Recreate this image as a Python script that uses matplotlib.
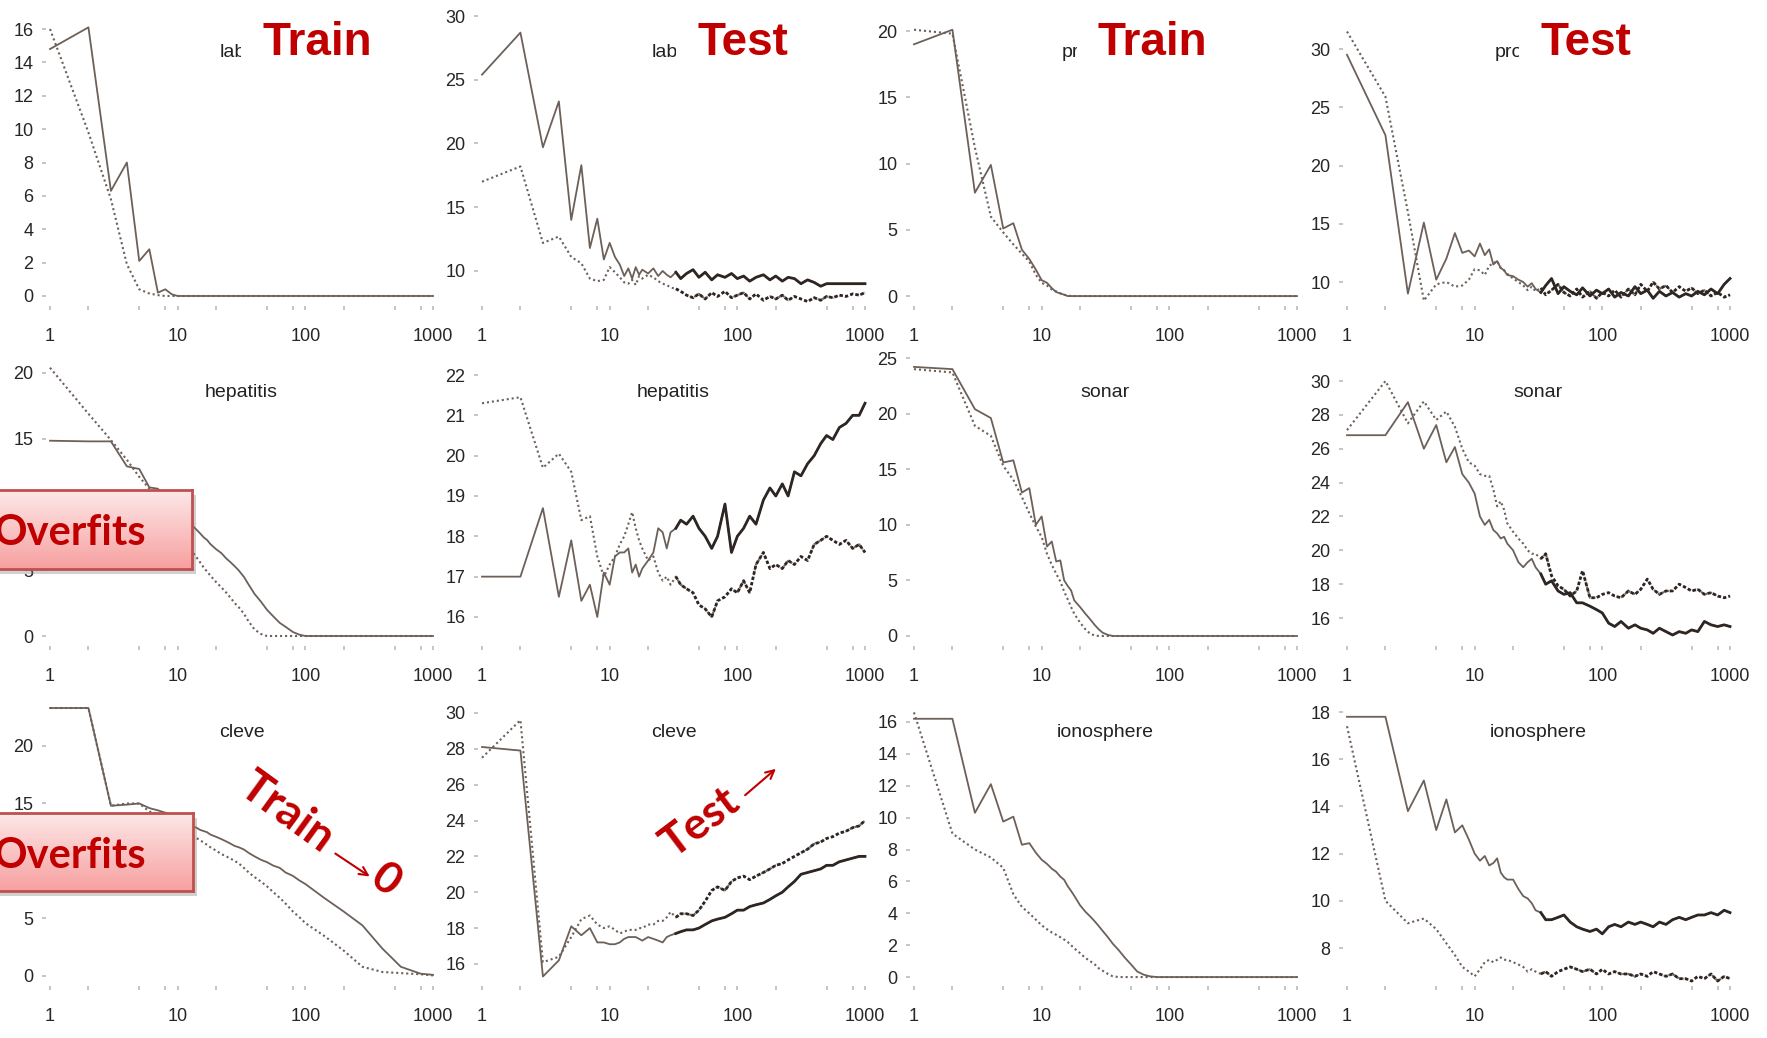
# Recreation of a 3x4 grid of train/test error curves (log x axis) with slide annotations.

import numpy as np
import matplotlib
matplotlib.use("Agg")
import matplotlib.pyplot as plt
from matplotlib.ticker import FixedLocator, NullFormatter
from matplotlib.patches import Rectangle, FancyArrowPatch
from matplotlib.colors import LinearSegmentedColormap

# ---------------- data ----------------
X_TRAIN = [1, 2, 3, 4, 5, 6, 7, 8, 9, 10,
           11, 12, 13, 14, 15, 16, 17, 18,
           20, 22, 24, 26, 28, 30,
           33, 36, 40, 45, 50, 56, 63, 70, 80, 90, 100,
           140, 200, 280, 400, 560, 800, 1000]

X_TEST = [1, 2, 3, 4, 5, 6, 7, 8, 9, 10,
          11, 12, 13, 14, 15, 16, 17, 18,
          20, 22, 24, 26, 28, 30,
          33, 36, 40, 45, 50, 56, 63, 70, 80, 90, 100,
          112, 125, 140, 160, 180, 200,
          225, 250, 280, 315, 355, 400,
          450, 500, 560, 630, 710, 800, 900, 1000]

# row 1 : labor / promoters
lab_train_solid = [14.8, 16.1, 6.3, 8.0, 2.1, 2.8, 0.2, 0.4, 0.1, 0.0,
                   0.0, 0.0, 0.0, 0.0, 0.0, 0.0, 0.0, 0.0,
                   0.0, 0.0, 0.0, 0.0, 0.0, 0.0,
                   0.0, 0.0, 0.0, 0.0, 0.0, 0.0, 0.0, 0.0, 0.0, 0.0, 0.0,
                   0.0, 0.0, 0.0, 0.0, 0.0, 0.0, 0.0]
lab_train_dotted = [16.0, 9.8, 5.8, 1.9, 0.4, 0.15, 0.05, 0.0, 0.0, 0.0,
                    0.0, 0.0, 0.0, 0.0, 0.0, 0.0, 0.0, 0.0,
                    0.0, 0.0, 0.0, 0.0, 0.0, 0.0,
                    0.0, 0.0, 0.0, 0.0, 0.0, 0.0, 0.0, 0.0, 0.0, 0.0, 0.0,
                    0.0, 0.0, 0.0, 0.0, 0.0, 0.0, 0.0]

lab_test_solid = [25.4, 28.7, 19.7, 23.3, 14.0, 18.3, 11.8, 14.1, 10.9, 12.2,
                  11.1, 10.5, 9.6, 10.2, 9.4, 10.3, 9.7, 10.1,
                  9.8, 10.2, 9.6, 10.0, 9.7, 9.5,
                  9.9, 9.4, 9.8, 10.1, 9.5, 9.9, 9.3, 9.7, 9.5, 9.8, 9.4,
                  9.6, 9.2, 9.5, 9.7, 9.3, 9.6,
                  9.2, 9.5, 9.4, 9.0, 9.3, 9.1,
                  8.8, 9.0, 9.0, 9.0, 9.0, 9.0, 9.0, 9.0]
lab_test_dotted = [17.0, 18.2, 12.2, 12.7, 11.1, 10.6, 9.4, 9.2, 9.3, 10.3,
                   9.9, 9.5, 9.1, 9.0, 9.3, 8.9, 9.6, 9.4,
                   9.7, 9.5, 9.2, 9.0, 8.9, 8.7,
                   8.6, 8.4, 8.1, 7.9, 8.2, 7.8, 8.3, 8.0, 8.4, 7.9, 8.1,
                   8.3, 7.8, 8.2, 7.7, 8.0, 7.8,
                   8.1, 7.7, 8.0, 7.8, 7.6, 7.9,
                   7.7, 8.0, 7.9, 8.1, 8.0, 8.2, 8.1, 8.3]

pro_train_solid = [19.0, 20.1, 7.8, 9.9, 5.1, 5.5, 3.5, 2.8, 2.0, 1.2,
                   1.0, 0.6, 0.3, 0.2, 0.1, 0.0, 0.0, 0.0,
                   0.0, 0.0, 0.0, 0.0, 0.0, 0.0,
                   0.0, 0.0, 0.0, 0.0, 0.0, 0.0, 0.0, 0.0, 0.0, 0.0, 0.0,
                   0.0, 0.0, 0.0, 0.0, 0.0, 0.0, 0.0]
pro_train_dotted = [20.1, 19.8, 11.2, 6.0, 4.8, 3.9, 3.2, 2.6, 1.6, 1.0,
                    0.8, 0.5, 0.35, 0.2, 0.1, 0.05, 0.0, 0.0,
                    0.0, 0.0, 0.0, 0.0, 0.0, 0.0,
                    0.0, 0.0, 0.0, 0.0, 0.0, 0.0, 0.0, 0.0, 0.0, 0.0, 0.0,
                    0.0, 0.0, 0.0, 0.0, 0.0, 0.0, 0.0]

pro_test_solid = [29.5, 22.6, 9.0, 15.1, 10.2, 12.0, 14.2, 12.5, 12.7, 12.2,
                  13.3, 12.3, 12.8, 11.5, 11.8, 11.2, 11.0, 10.6,
                  10.5, 10.2, 10.0, 9.6, 9.9, 9.4,
                  9.1, 9.7, 10.3, 9.0, 9.6, 9.2, 8.9, 9.5, 8.8, 9.3, 9.0,
                  9.4, 8.7, 9.1, 8.8, 9.6, 9.0,
                  9.3, 8.6, 9.2, 8.8, 9.1, 8.7,
                  9.0, 8.8, 9.2, 8.9, 9.4, 9.0, 9.8, 10.3]
pro_test_dotted = [31.5, 25.9, 16.0, 8.4, 9.8, 10.0, 9.6, 9.7, 10.2, 11.1,
                   11.0, 10.6, 11.4, 11.6, 11.8, 11.2, 11.0, 10.7,
                   10.3, 10.0, 9.7, 9.3, 9.6, 9.2,
                   9.5, 8.9, 9.3, 9.8, 9.1, 8.8, 9.4, 8.7, 9.2, 8.6, 9.1,
                   8.8, 9.3, 8.7, 9.4, 8.9, 9.8,
                   9.2, 10.0, 9.4, 9.7, 9.1, 9.6,
                   9.2, 9.5, 9.0, 9.3, 8.8, 9.1, 8.7, 8.9]

# row 2 : hepatitis / sonar
hep_train_solid = [14.85, 14.8, 14.8, 12.9, 12.7, 11.3, 11.2, 10.5, 10.0, 9.6,
                   9.2, 8.8, 8.4, 8.1, 7.8, 7.5, 7.3, 7.0,
                   6.6, 6.3, 5.9, 5.6, 5.3, 5.0,
                   4.5, 3.9, 3.2, 2.6, 2.0, 1.5, 1.0, 0.7, 0.3, 0.1, 0.0,
                   0.0, 0.0, 0.0, 0.0, 0.0, 0.0, 0.0]
hep_train_dotted = [20.4, 16.9, 14.9, 13.4, 12.1, 11.2, 10.3, 9.5, 8.7, 8.0,
                    7.5, 7.0, 6.4, 6.0, 5.6, 5.2, 4.9, 4.6,
                    4.1, 3.7, 3.3, 2.9, 2.5, 2.2,
                    1.7, 1.1, 0.5, 0.15, 0.0, 0.0, 0.0, 0.0, 0.0, 0.0, 0.0,
                    0.0, 0.0, 0.0, 0.0, 0.0, 0.0, 0.0]

hep_test_solid = [17.0, 17.0, 18.7, 16.5, 17.9, 16.4, 16.8, 16.0, 17.1, 16.8,
                  17.5, 17.6, 17.6, 17.7, 17.1, 17.3, 17.0, 17.2,
                  17.4, 17.6, 18.2, 18.1, 17.7, 18.1,
                  18.2, 18.4, 18.3, 18.5, 18.2, 18.0, 17.7, 18.0, 18.8, 17.6, 18.0,
                  18.2, 18.5, 18.3, 18.9, 19.2, 19.0,
                  19.3, 19.0, 19.6, 19.5, 19.8, 20.0,
                  20.3, 20.5, 20.4, 20.7, 20.8, 21.0, 21.0, 21.3]
hep_test_dotted = [21.3, 21.45, 19.7, 20.05, 19.6, 18.4, 18.5, 17.5, 17.0, 17.3,
                   17.5, 17.8, 18.0, 18.3, 18.6, 18.2, 17.9, 17.7,
                   17.4, 17.5, 17.1, 16.9, 17.0, 16.8,
                   17.0, 16.8, 16.7, 16.6, 16.3, 16.2, 16.0, 16.4, 16.5, 16.7, 16.6,
                   16.9, 16.6, 17.3, 17.6, 17.2, 17.3,
                   17.2, 17.4, 17.3, 17.5, 17.4, 17.8,
                   17.9, 18.0, 17.9, 17.8, 17.9, 17.7, 17.8, 17.6]

son_train_solid = [24.2, 24.0, 20.4, 19.6, 15.6, 15.8, 12.9, 13.3, 10.0, 10.75,
                   8.05, 8.5, 6.7, 6.8, 5.0, 4.5, 4.1, 3.2,
                   2.6, 2.0, 1.5, 1.0, 0.6, 0.3,
                   0.1, 0.0, 0.0, 0.0, 0.0, 0.0, 0.0, 0.0, 0.0, 0.0, 0.0,
                   0.0, 0.0, 0.0, 0.0, 0.0, 0.0, 0.0]
son_train_dotted = [24.0, 23.7, 18.9, 18.0, 15.3, 14.05, 12.5, 11.05, 9.85, 8.9,
                    7.4, 6.4, 5.6, 4.9, 4.0, 3.3, 2.6, 2.0,
                    1.2, 0.6, 0.2, 0.05, 0.0, 0.0,
                    0.0, 0.0, 0.0, 0.0, 0.0, 0.0, 0.0, 0.0, 0.0, 0.0, 0.0,
                    0.0, 0.0, 0.0, 0.0, 0.0, 0.0, 0.0]

son_test_solid = [26.8, 26.8, 28.75, 26.0, 27.4, 25.2, 26.1, 24.5, 24.0, 23.35,
                  22.0, 21.5, 21.8, 21.2, 21.0, 20.7, 20.8, 20.4,
                  20.0, 19.3, 19.0, 19.3, 19.5, 19.0,
                  18.6, 18.0, 18.2, 17.6, 17.4, 17.5, 16.9, 16.9, 16.7, 16.5, 16.3,
                  15.7, 15.5, 15.8, 15.4, 15.6, 15.4,
                  15.3, 15.1, 15.4, 15.2, 15.0, 15.2,
                  15.1, 15.3, 15.2, 15.8, 15.6, 15.5, 15.6, 15.5]
son_test_dotted = [27.1, 30.0, 27.5, 28.8, 27.7, 28.2, 27.3, 26.0, 25.2, 25.0,
                   24.5, 24.4, 24.4, 23.6, 22.6, 22.9, 22.4, 21.6,
                   21.1, 20.7, 20.4, 20.0, 19.8, 19.8,
                   19.5, 19.8, 18.5, 17.9, 17.7, 17.3, 17.6, 18.8, 17.2, 17.2, 17.4,
                   17.5, 17.3, 17.2, 17.6, 17.4, 17.7,
                   18.3, 17.7, 17.4, 17.6, 17.6, 18.0,
                   17.8, 17.6, 17.7, 17.4, 17.5, 17.3, 17.2, 17.3]

# row 3 : cleve / ionosphere
clv_train_solid = [23.3, 23.3, 14.8, 14.9, 15.0, 14.6, 14.4, 14.2, 14.0, 13.6,
                   13.3, 13.2, 13.0, 12.9, 12.7, 12.6, 12.5, 12.3,
                   12.1, 11.9, 11.7, 11.5, 11.3, 11.2,
                   11.0, 10.7, 10.4, 10.1, 9.9, 9.6, 9.4, 9.0, 8.7, 8.3, 8.0,
                   6.8, 5.6, 4.4, 2.4, 0.8, 0.2, 0.1]
clv_train_dotted = [23.3, 23.3, 14.8, 15.0, 15.0, 14.3, 14.1, 13.7, 13.3, 13.0,
                    12.7, 12.4, 12.2, 12.0, 11.8, 11.6, 11.4, 11.2,
                    10.9, 10.6, 10.4, 10.2, 10.0, 9.8,
                    9.4, 9.0, 8.6, 8.2, 7.8, 7.3, 6.8, 6.3, 5.6, 5.1, 4.6,
                    3.5, 2.2, 0.8, 0.35, 0.25, 0.15, 0.05]

clv_test_solid = [28.1, 27.9, 15.3, 16.2, 18.1, 17.6, 18.0, 17.2, 17.2, 17.1,
                  17.1, 17.2, 17.4, 17.5, 17.5, 17.5, 17.4, 17.3,
                  17.5, 17.4, 17.3, 17.2, 17.5, 17.6,
                  17.7, 17.8, 17.9, 17.9, 18.0, 18.2, 18.4, 18.5, 18.6, 18.8, 19.0,
                  19.0, 19.2, 19.3, 19.4, 19.6, 19.8,
                  20.0, 20.3, 20.6, 21.0, 21.1, 21.2,
                  21.3, 21.5, 21.5, 21.7, 21.8, 21.9, 22.0, 22.0]
clv_test_dotted = [27.5, 29.6, 16.1, 16.4, 17.5, 18.5, 18.7, 18.2, 18.0, 18.1,
                   17.9, 17.7, 17.8, 17.9, 17.9, 17.9, 18.0, 18.0,
                   18.2, 18.2, 18.4, 18.4, 18.6, 18.9,
                   18.6, 18.8, 18.8, 18.7, 19.0, 19.5, 20.1, 20.3, 20.1, 20.6, 20.8,
                   20.9, 20.7, 20.9, 21.1, 21.3, 21.5,
                   21.6, 21.8, 22.0, 22.2, 22.4, 22.7,
                   22.8, 23.0, 23.1, 23.3, 23.4, 23.6, 23.7, 24.0]

ion_train_solid = [16.2, 16.2, 10.3, 12.1, 9.75, 10.06, 8.3, 8.4, 7.8, 7.36,
                   7.1, 6.8, 6.6, 6.3, 6.1, 5.7, 5.4, 5.1,
                   4.5, 4.1, 3.8, 3.5, 3.2, 2.9,
                   2.5, 2.1, 1.7, 1.2, 0.8, 0.35, 0.15, 0.05, 0.0, 0.0, 0.0,
                   0.0, 0.0, 0.0, 0.0, 0.0, 0.0, 0.0]
ion_train_dotted = [16.6, 9.0, 8.0, 7.5, 6.85, 5.2, 4.4, 4.0, 3.6, 3.25,
                    3.0, 2.8, 2.65, 2.5, 2.35, 2.2, 2.0, 1.8,
                    1.5, 1.2, 1.0, 0.8, 0.55, 0.4,
                    0.2, 0.05, 0.0, 0.0, 0.0, 0.0, 0.0, 0.0, 0.0, 0.0, 0.0,
                    0.0, 0.0, 0.0, 0.0, 0.0, 0.0, 0.0]

ion_test_solid = [17.8, 17.8, 13.8, 15.1, 13.0, 14.3, 12.9, 13.2, 12.6, 12.0,
                  11.7, 11.9, 11.5, 11.6, 11.8, 11.2, 11.0, 10.9,
                  10.9, 10.5, 10.2, 10.1, 9.9, 9.6,
                  9.5, 9.2, 9.2, 9.3, 9.4, 9.1, 8.9, 8.8, 8.7, 8.8, 8.6,
                  8.9, 9.0, 8.9, 9.1, 9.0, 9.1,
                  9.0, 8.9, 9.1, 9.0, 9.2, 9.3,
                  9.2, 9.3, 9.4, 9.4, 9.5, 9.4, 9.6, 9.5]
ion_test_dotted = [17.4, 10.0, 9.05, 9.25, 8.8, 8.2, 7.7, 7.2, 7.0, 6.8,
                   7.1, 7.4, 7.5, 7.4, 7.5, 7.6, 7.5, 7.5,
                   7.4, 7.3, 7.2, 7.0, 7.1, 7.0,
                   6.9, 7.0, 6.8, 7.0, 7.1, 7.2, 7.1, 7.0, 7.1, 6.9, 7.1,
                   6.9, 7.0, 6.9, 6.9, 6.8, 6.9,
                   6.8, 7.0, 6.9, 6.8, 6.9, 6.7,
                   6.7, 6.6, 6.8, 6.7, 6.9, 6.6, 6.8, 6.7]

TITLES = [["labor", "labor", "promoters", "promoters"],
          ["hepatitis", "hepatitis", "sonar", "sonar"],
          ["cleve", "cleve", "ionosphere", "ionosphere"]]

# ---------------- layout helpers ----------------
W, H = 1767, 1038
LINE = "#6d6059"
DENSE = "#2e2623"
RED = "#c00000"
DENSE_FROM = 24          # index in X_TEST (x=33) where the noisy tail starts

fig = plt.figure(figsize=(W / 100, H / 100), dpi=100)
fig.patch.set_facecolor("white")

COL_X1 = [50, 482, 914, 1347]      # pixel of x=1 in every column
DEC = 127.67                        # pixels per decade
ROW_TOP = [8, 348, 688]
ROW_BOT = [306, 646, 986]
XLIM = (10 ** (-4 / DEC), 10 ** (3 + 4 / DEC))


def px_axes(left, top, right, bottom, **kw):
    return fig.add_axes([left / W, 1 - bottom / H, (right - left) / W, (bottom - top) / H], **kw)


def draw_panel(r, c, x, solid, dotted, ylim, yticks, noisy=False):
    x1 = COL_X1[c]
    ax = px_axes(x1 - 4, ROW_TOP[r], x1 + 3 * DEC + 4, ROW_BOT[r])
    ax.set_facecolor("none")
    ax.plot(x, solid, color=LINE, lw=1.3)
    ax.plot(x, dotted, color=LINE, lw=1.5, ls=(0, (1, 1.4)))
    if noisy:
        # the long noisy tails print as a dense dark band in the original
        ax.plot(x[DENSE_FROM:], solid[DENSE_FROM:], color=DENSE, lw=2.0)
        ax.plot(x[DENSE_FROM:], dotted[DENSE_FROM:], color=DENSE, lw=2.0, ls=(0, (1.2, 0.8)))
    ax.set_xscale("log")
    ax.set_xlim(*XLIM)
    ax.set_ylim(*ylim)
    ax.set_yticks(yticks)
    ax.set_xticks([1, 10, 100, 1000])
    ax.set_xticklabels(["1", "10", "100", "1000"])
    ax.xaxis.set_minor_locator(FixedLocator([2, 5, 8, 20, 50, 80, 200, 500, 800]))
    ax.xaxis.set_minor_formatter(NullFormatter())
    for s in ax.spines.values():
        s.set_visible(False)
    ax.tick_params(which="both", direction="out", length=3, width=1.1,
                   color="#b5b5b5", labelsize=13, labelcolor="#262626")
    ax.tick_params(axis="x", which="both", pad=13)
    ax.tick_params(axis="y", pad=6)
    for lab in ax.get_xticklabels() + ax.get_yticklabels():
        lab.set_family("Liberation Sans")
    ax.text(0.5, 0.852, TITLES[r][c], transform=ax.transAxes, ha="center",
            va="center", fontsize=14, color="#222222", family="Liberation Sans")
    return ax


# row 1
draw_panel(0, 0, X_TRAIN, lab_train_solid, lab_train_dotted, (-0.6, 17.26), range(0, 17, 2))
draw_panel(0, 1, X_TEST, lab_test_solid, lab_test_dotted, (7.25, 30.63), range(10, 31, 5), True)
draw_panel(0, 2, X_TRAIN, pro_train_solid, pro_train_dotted, (-0.75, 21.74), range(0, 21, 5))
draw_panel(0, 3, X_TEST, pro_test_solid, pro_test_dotted, (7.94, 33.52), range(10, 31, 5), True)
# row 2
draw_panel(1, 0, X_TRAIN, hep_train_solid, hep_train_dotted, (-0.76, 21.9), range(0, 21, 5))
draw_panel(1, 1, X_TEST, hep_test_solid, hep_test_dotted, (15.28, 22.67), range(16, 23, 1), True)
draw_panel(1, 2, X_TRAIN, son_train_solid, son_train_dotted, (-0.9, 25.9), range(0, 26, 5))
draw_panel(1, 3, X_TEST, son_test_solid, son_test_dotted, (14.35, 31.95), range(16, 31, 2), True)
# row 3
draw_panel(2, 0, X_TRAIN, clv_train_solid, clv_train_dotted, (-0.87, 25.04), range(0, 21, 5))
draw_panel(2, 1, X_TEST, clv_test_solid, clv_test_dotted, (14.77, 31.39), range(16, 31, 2), True)
draw_panel(2, 2, X_TRAIN, ion_train_solid, ion_train_dotted, (-0.56, 18.13), range(0, 17, 2))
draw_panel(2, 3, X_TEST, ion_test_solid, ion_test_dotted, (6.39, 19.02), range(8, 19, 2), True)

# ---------------- slide annotations ----------------
for xpx, word in [(262, "Train"), (697, "Test"), (1098, "Train"), (1540, "Test")]:
    fig.text(xpx / W, 1 - 55 / H, word, fontsize=33, fontweight="bold", color=RED,
             family="Liberation Sans", ha="left", va="baseline", zorder=6,
             bbox=dict(facecolor="white", edgecolor="none", pad=15))

pink = LinearSegmentedColormap.from_list("pink_grad", ["#fde8e8", "#f7a0a0"])


def overfits_box(top, bottom, right, baseline):
    shadow = Rectangle((-2 / W, 1 - (bottom + 5) / H), (right + 6) / W, (bottom - top) / H,
                       transform=fig.transFigure, facecolor="#7a7a7a", alpha=0.35,
                       edgecolor="none", zorder=4)
    fig.add_artist(shadow)
    bax = px_axes(-6, top, right, bottom, zorder=5)
    bax.imshow(np.linspace(0, 1, 64).reshape(-1, 1), aspect="auto", cmap=pink,
               extent=[0, 1, 0, 1], origin="upper")
    bax.set_xticks([])
    bax.set_yticks([])
    for s in bax.spines.values():
        s.set_color("#c0504d")
        s.set_linewidth(2)
    fig.text(-6 / W, 1 - baseline / H, "Overfits", fontsize=30, fontweight="bold",
             color=RED, family="Lato", ha="left", va="baseline", zorder=6)


overfits_box(490, 569, 192, 545)
overfits_box(813, 891, 193, 868)

# rotated "Train -> 0"
fig.text(287 / W, 1 - 812 / H, "Train", rotation=-36, fontsize=33, fontweight="bold",
         color=RED, family="Lato", ha="center", va="center", zorder=6)
fig.add_artist(FancyArrowPatch(
    (333 / W, 1 - 852 / H), (372 / W, 1 - 878 / H), transform=fig.transFigure,
    arrowstyle="->,head_length=6,head_width=3", color=RED, lw=1.5, zorder=6))
fig.text(386 / W, 1 - 880 / H, "0", rotation=-36, fontsize=32, fontweight="bold",
         color=RED, family="Lato", ha="center", va="center", zorder=6)

# rotated "Test ->"
fig.text(700 / W, 1 - 823 / H, "Test", rotation=37, fontsize=32, fontweight="bold",
         color=RED, family="Lato", ha="center", va="center", zorder=6)
fig.add_artist(FancyArrowPatch(
    (743 / W, 1 - 797 / H), (778 / W, 1 - 767 / H), transform=fig.transFigure,
    arrowstyle="->,head_length=6,head_width=3", color=RED, lw=1.5, zorder=6))

fig.savefig("out.png", dpi=100, facecolor="white")
